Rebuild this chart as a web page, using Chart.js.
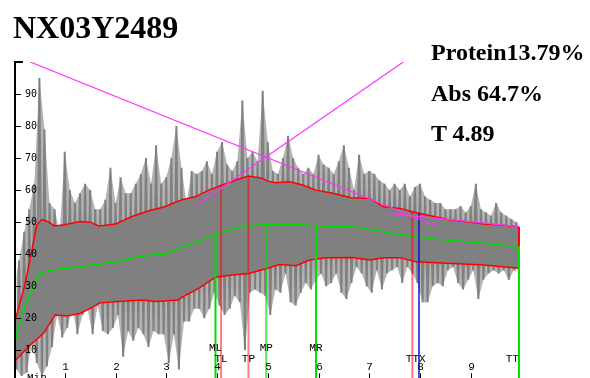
<!DOCTYPE html>
<html lang="en">
<head>
<meta charset="UTF-8">
<title>NX03Y2489</title>
<script src="https://cdn.jsdelivr.net/npm/chart.js"></script>
<style>
    html, body { margin: 0; padding: 0; background: #fff; overflow: hidden; }
    body { width: 590px; height: 378px; position: relative; }
    .chart-box { position: absolute; left: 0; top: 0; width: 590px; height: 392px; }
    .title { position: absolute; left: 13px; top: 11px; font: bold 32px "Liberation Serif", serif; line-height: 1; }
    .stat { position: absolute; left: 431px; font: bold 24px "Liberation Serif", serif; line-height: 1; white-space: nowrap; }
</style>
</head>
<body>

<div class="chart-box"><canvas id="mixogram"></canvas></div>
<div class="title">NX03Y2489</div>
<div class="stat" style="top:40px">Protein13.79%</div>
<div class="stat" style="top:81px">Abs 64.7%</div>
<div class="stat" style="top:121px">T 4.89</div>

<script>
// mixograph trace, read per 0.1 min: peak and trough of each bin
const signalStep = 0.1;
const signalTop = [
    30, 38, 47, 54, 62, 95, 79, 56, 54, 47,
    72, 60, 56, 59, 62, 60, 54, 54, 57, 67,
    56, 64, 59, 59, 62, 65, 70, 62, 74, 62,
    64, 70, 80, 67, 56, 66, 65, 66, 69, 65,
    72, 75, 68, 66, 69, 88, 70, 72, 69, 91,
    75, 66, 65, 70, 77, 70, 67, 65, 67, 65,
    71, 68, 67, 65, 69, 74, 67, 60, 71, 65,
    66, 65, 63, 62, 60, 62, 60, 62, 58, 61,
    62, 58, 57, 56, 56, 54, 54, 54, 55, 53,
    55, 62, 54, 53, 52, 56, 53, 52, 51, 50
];
const signalBottom = [
    4, 2, 3, 12, 6, 2, 5, 11, 21, 14,
    17, 23, 15, 21, 23, 15, 24, 16, 15, 17,
    21, 8, 16, 13, 17, 15, 11, 16, 15, 15,
    6, 15, 4, 19, 19, 23, 23, 20, 23, 28,
    24, 21, 23, 27, 25, 10, 28, 29, 28, 27,
    21, 29, 28, 34, 25, 24, 28, 31, 29, 32,
    34, 30, 31, 34, 28, 26, 31, 36, 34, 30,
    28, 35, 29, 34, 35, 36, 31, 36, 34, 31,
    25, 25, 30, 31, 30, 35, 36, 31, 29, 32,
    35, 26, 32, 34, 35, 34, 35, 32, 35, 34
];

// envelopes and midline
const upperTimes = [0, 0.22, 0.45, 0.55, 0.65, 0.8, 1.0, 1.3, 1.5, 1.67, 2.0, 2.31, 2.64, 2.97, 3.13, 3.33, 3.57, 3.84, 4.1, 4.36, 4.62, 4.89, 5.0, 5.16, 5.42, 5.69, 5.95, 6.28, 6.64, 7.01, 7.28, 7.61, 7.87, 8.3, 8.6, 8.93, 9.26, 9.59, 9.95];
const upperVals  = [18, 30.8, 49.1, 50.8, 50.3, 48.8, 49.2, 50.2, 50, 48.8, 49.4, 51.7, 53.5, 54.8, 55.9, 57.1, 57.9, 60, 61.6, 63.1, 64.4, 63.7, 62.8, 62.3, 62.6, 61.6, 60, 59, 57.6, 57.4, 54.8, 54.3, 53.2, 51.7, 50.7, 50.1, 49.4, 49.1, 48.6];
const midTimes = [0, 0.18, 0.38, 0.51, 0.71, 1.3, 1.69, 1.98, 2.31, 2.64, 2.97, 3.33, 3.7, 4.03, 4.3, 4.62, 5.0, 5.23, 5.42, 5.95, 6.66, 7.28, 7.93, 8.32, 8.93, 9.95];
const midVals  = [11.6, 22.6, 29.8, 34, 35, 36.1, 36.9, 37.4, 38.7, 39.7, 40, 42.3, 44.4, 46.5, 47.8, 48.9, 49.3, 49.1, 49.4, 48.9, 48.6, 47, 45.4, 44.7, 43.9, 42.3];
const lowerTimes = [0, 0.32, 0.58, 0.81, 1.04, 1.3, 1.5, 1.69, 2.05, 2.51, 2.8, 3.23, 3.35, 3.64, 3.97, 4.3, 4.62, 5.0, 5.23, 5.56, 5.82, 6.15, 6.66, 7.01, 7.28, 7.61, 7.93, 8.32, 9.26, 9.95];
const lowerVals  = [6.4, 11.6, 15.3, 21, 20.7, 21.5, 23.1, 24.8, 25.2, 25.7, 25.2, 25.7, 26.9, 29.3, 32.8, 33.5, 34, 35.6, 36.8, 36.4, 38.2, 38.9, 39, 38.2, 38.9, 38.9, 37.6, 37.3, 36.6, 35.6];

// event markers (minutes) and where each line starts
const markerNames = ['ML', 'TL', 'TP', 'MP', 'MR', 'TT', 'X', 'TT'];
const markerTimes = [3.97, 4.08, 4.62, 4.97, 5.95, 7.85, 7.98, 9.95];
const markerTops  = [46.5, 61.6, 64.4, 49.3, 48.9, 53.2, 52.8, 42.3];

// slope lines: [start, end]
const slopeTimes = [[0.32, 8.33], [3.59, 7.67], [7.34, 9.95]];
const slopeVals  = [[100, 48.8], [55.3, 100], [52.8, 48.6]];

const yTicks = [10, 20, 30, 40, 50, 60, 70, 80, 90];
const xTicks = [1, 2, 3, 4, 5, 6, 7, 8, 9];

const markerColors = ['#00dd00', 'rgba(255,0,0,0.5)', 'rgba(255,0,0,0.5)', 'rgba(0,220,0,0.65)',
                      '#00dd00', 'rgba(255,0,0,0.55)', '#1010d0', '#00dd00'];

function pairs(ts, vs) {
    return ts.map((t, i) => ({ x: t, y: vs[i] }));
}

const topPoints = signalTop.map((v, i) => ({ x: i * signalStep, y: v }));
const bottomPoints = signalBottom.map((v, i) => ({ x: i * signalStep + signalStep / 2, y: v }));
const tracePoints = [];
topPoints.forEach((p, i) => { tracePoints.push(p, bottomPoints[i]); });

const datasets = [
    // trace outline (soft) and the oscillation itself
    { data: topPoints, borderWidth: 0, fill: '+1', backgroundColor: 'rgba(128,128,128,0.6)', order: 10 },
    { data: bottomPoints, borderWidth: 0, order: 10 },
    { data: tracePoints, borderColor: '#808080', borderWidth: 2, order: 9 },
    // band between envelopes is solid trace
    { data: pairs(upperTimes, upperVals), borderColor: '#ff0000', borderWidth: 1.5,
      fill: 5, backgroundColor: '#808080', order: 4 },
    { data: pairs(midTimes, midVals), borderColor: '#00e000', borderWidth: 1.5, order: 4 },
    { data: pairs(lowerTimes, lowerVals), borderColor: '#ff0000', borderWidth: 1.5, order: 4 }
];

markerTimes.forEach((t, i) => {
    datasets.push({
        data: [{ x: t, y: markerTops[i] }, { x: t, y: 0 }],
        borderColor: markerColors[i], borderWidth: i === 6 ? 1.5 : 2, order: 3
    });
});
// closing segment of the envelope at the end of the test
datasets.push({
    data: [{ x: upperTimes[upperTimes.length - 1], y: upperVals[upperVals.length - 1] },
           { x: midTimes[midTimes.length - 1], y: midVals[midVals.length - 1] }],
    borderColor: '#ff0000', borderWidth: 2, order: 3
});

slopeTimes.forEach((ts, i) => {
    datasets.push({ data: pairs(ts, slopeVals[i]), borderColor: '#ff33ff', borderWidth: 1.2, order: 1 });
});

const axisPlugin = {
    id: 'mixAxes',
    afterDatasetsDraw(chart) {
        const { ctx, chartArea, scales: { x, y } } = chart;
        const ax = chartArea.left + 1;
        const top = y.getPixelForValue(100);
        const bottom = chartArea.bottom;
        ctx.save();
        ctx.strokeStyle = '#000';
        ctx.fillStyle = '#000';
        ctx.lineWidth = 2;
        ctx.beginPath();
        ctx.moveTo(ax, top);
        ctx.lineTo(ax, chart.height);
        ctx.moveTo(ax - 1, top);
        ctx.lineTo(ax + 8, top);
        ctx.stroke();

        ctx.lineWidth = 1;
        ctx.font = '10px "DejaVu Sans Mono", monospace';
        ctx.textAlign = 'left';
        ctx.textBaseline = 'middle';
        yTicks.forEach(v => {
            const py = Math.round(y.getPixelForValue(v)) + 0.5;
            ctx.beginPath();
            ctx.moveTo(ax, py);
            ctx.lineTo(ax + 6, py);
            ctx.stroke();
            ctx.fillText(String(v), ax + 10, py);
        });

        ctx.font = '11px "Liberation Mono", monospace';
        ctx.textAlign = 'center';
        xTicks.forEach(t => {
            const px = Math.round(x.getPixelForValue(t)) + 0.5;
            ctx.fillText(String(t), px, bottom - 15);
            ctx.beginPath();
            ctx.moveTo(px, bottom - 9);
            ctx.lineTo(px, bottom);
            ctx.stroke();
        });

        markerNames.forEach((name, i) => {
            const px = x.getPixelForValue(markerTimes[i]);
            const py = name.charAt(0) === 'M' ? bottom - 34.6 : bottom - 23.3;
            ctx.textAlign = name === 'X' ? 'left' : (i === markerNames.length - 1 ? 'right' : 'center');
            ctx.fillText(name, px, py);
        });

        ctx.textAlign = 'left';
        ctx.textBaseline = 'top';
        ctx.fillText('Min.', ax + 12, bottom - 10);
        ctx.restore();
    }
};

new Chart(document.getElementById('mixogram'), {
    type: 'line',
    data: { datasets: datasets },
    options: {
        responsive: true,
        maintainAspectRatio: false,
        animation: false,
        events: [],
        layout: { padding: { left: 14, right: 68.5, top: 62, bottom: 9.7 } },
        elements: {
            point: { radius: 0 },
            line: { tension: 0, fill: false }
        },
        scales: {
            x: { type: 'linear', min: 0, max: 10, display: false },
            y: { type: 'linear', min: 0, max: 100, display: false }
        },
        plugins: {
            legend: { display: false },
            tooltip: { enabled: false },
            filler: { drawTime: 'beforeDatasetsDraw' }
        }
    },
    plugins: [axisPlugin]
});
</script>
</body>
</html>
